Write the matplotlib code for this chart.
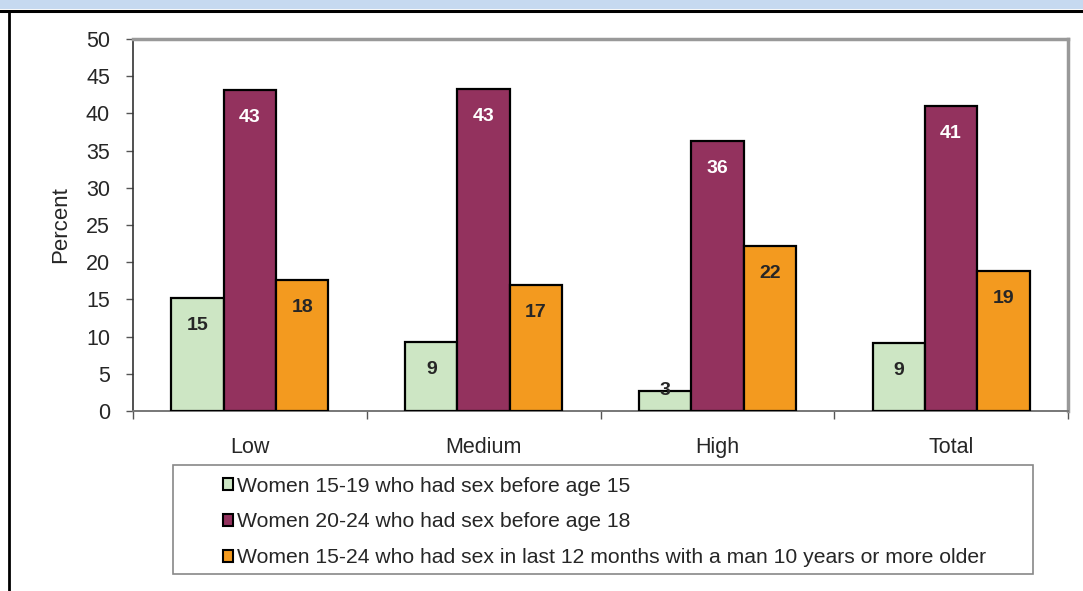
""" Percent of young women by wealth level, grouped bar chart
"""

import numpy as np
from matplotlib import pyplot as plt
from matplotlib.patches import Patch, Rectangle
from matplotlib.lines import Line2D

categories = ["Low", "Medium", "High", "Total"]
series_names = [
    "Women 15-19 who had sex before age 15",
    "Women 20-24 who had sex before age 18",
    "Women 15-24 who had sex in last 12 months with a man 10 years or more older",
]
before_15 = [15.2, 9.3, 2.7, 9.2]
before_18 = [43.2, 43.3, 36.3, 41.0]
older_man = [17.6, 17.0, 22.2, 18.8]

colors = ["#cde6c4", "#93325e", "#f39a1f"]
label_colors = ["#262626", "white", "#262626"]

plt.rcParams["font.family"] = ["Liberation Sans", "DejaVu Sans"]

fig = plt.figure(figsize=(10.83, 5.91), dpi=100)

# Cadre de la page (bande bleue en haut, traits noirs)
fig.add_artist(Rectangle((0, 1 - 9 / 591), 1, 9 / 591, transform=fig.transFigure,
                         facecolor="#c6d9f0", edgecolor="none"))
fig.add_artist(Line2D([0, 1], [1 - 10.5 / 591] * 2, transform=fig.transFigure,
                      color="black", lw=2.2))
fig.add_artist(Line2D([8.5 / 1083] * 2, [0, 1 - 10.5 / 591], transform=fig.transFigure,
                      color="black", lw=2))

ax = fig.add_axes([133 / 1083, 1 - 411 / 591, 935 / 1083, 372 / 591])

x = np.arange(len(categories))
width = 0.224
series = [before_15, before_18, older_man]
for i, values in enumerate(series):
    pos = x + (i - 1) * width
    ax.bar(pos, values, width, color=colors[i], edgecolor="black", linewidth=1.6,
           zorder=3)
    for xp, v in zip(pos, values):
        if v < 5:
            ax.text(xp, v + 0.1, f"{v:.0f}", ha="center", va="center",
                    fontsize=14, fontweight="bold", color=label_colors[i], zorder=4)
        else:
            ax.annotate(f"{v:.0f}", (xp, v), xytext=(0, -20),
                        textcoords="offset points", ha="center", va="center",
                        fontsize=14, fontweight="bold", color=label_colors[i], zorder=4)

ax.set_xlim(-0.5, len(categories) - 0.5)
ax.set_ylim(0, 50)
ax.set_yticks(range(0, 51, 5))
ax.set_xticks(x)
ax.set_xticklabels(categories)
ax.set_xticks(np.arange(-0.5, len(categories)), minor=True)
ax.tick_params(axis="x", which="major", length=0, pad=19, labelsize=15.5, labelcolor="#262626")
ax.tick_params(axis="x", which="minor", length=6, width=1, color="#555555", direction="out")
ax.tick_params(axis="y", length=5, width=1, color="#555555", direction="out",
               labelsize=15.5, labelcolor="#262626", pad=11.5)
ax.set_ylabel("Percent", fontsize=16, color="#262626", labelpad=11)

for side in ["top", "right"]:
    ax.spines[side].set_color("#999999")
    ax.spines[side].set_linewidth(2.5)
ax.spines["left"].set_color("#333333")
ax.spines["left"].set_linewidth(1.2)
ax.spines["bottom"].set_color("#777777")
ax.spines["bottom"].set_linewidth(1.4)

# Legende avec son cadre
fig.add_artist(Rectangle((173 / 1083, 1 - 574 / 591), 860 / 1083, 109 / 591,
                         transform=fig.transFigure, facecolor="white",
                         edgecolor="#888888", lw=1.2))
handles = [Patch(facecolor=c, edgecolor="black", linewidth=1.5) for c in colors]
fig.legend(handles, series_names, loc="upper left",
           bbox_to_anchor=(212 / 1083, 1 - 466 / 591), frameon=False,
           fontsize=15.2, handlelength=0.5, handleheight=0.5, handletextpad=0.2,
           labelspacing=0.8, borderpad=0, labelcolor="#262626")

fig.savefig("out.png", dpi=100)
